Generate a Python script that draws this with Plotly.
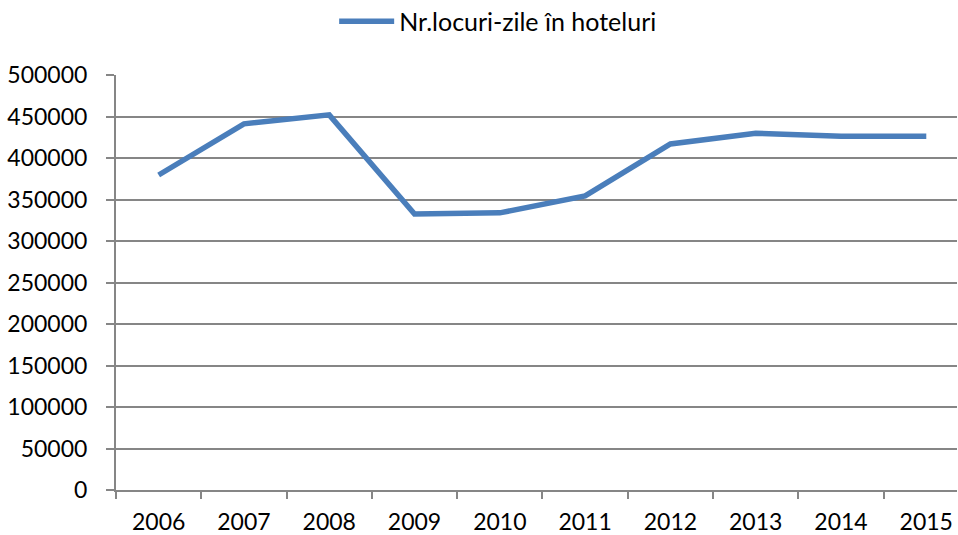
import plotly.graph_objects as go

years = ['2006', '2007', '2008', '2009', '2010', '2011', '2012', '2013', '2014', '2015']
locuri_zile = [379500, 441200, 452000, 332600, 333900, 354300, 416900, 429800, 426100, 426100]
y_ticks = [0, 50000, 100000, 150000, 200000, 250000, 300000, 350000, 400000, 450000, 500000]

GRID = '#868686'
FONT = 'Lato, Open Sans, sans-serif'

fig = go.Figure()

fig.add_trace(go.Scatter(
    x=years, y=locuri_zile,
    name='Nr.locuri-zile în hoteluri',
    mode='lines',
    line=dict(color='#4A7EBB', width=5.5),
))

fig.update_layout(
    width=958, height=535,
    plot_bgcolor='white', paper_bgcolor='white',
    margin=dict(l=116, r=1, t=75, b=45, autoexpand=False),
    font=dict(family=FONT, size=23, color='black'),
    showlegend=True,
    legend=dict(orientation='h', x=0.52, xref='container', xanchor='center',
                y=0.96, yref='container', yanchor='middle',
                font=dict(size=25), itemwidth=55),
)

# the original chart is cropped on the right, so the last category is cut short
fig.update_xaxes(
    type='category', tickson='boundaries', range=[-0.5, 9.36],
    showline=True, linecolor=GRID, linewidth=2,
    ticks='outside', ticklen=7, tickcolor=GRID, tickwidth=2,
    showgrid=False, tickfont=dict(size=23), automargin=False,
    ticklabelstandoff=10,
)
fig.update_yaxes(
    range=[0, 500000], tickvals=y_ticks, ticktext=[str(v) for v in y_ticks],
    showline=True, linecolor=GRID, linewidth=2,
    ticks='outside', ticklen=8, tickcolor=GRID, tickwidth=2,
    showgrid=True, gridcolor=GRID, gridwidth=2, zeroline=False,
    tickfont=dict(size=23), automargin=False, ticklabelstandoff=14,
)

# no default body margin or scrollbars, so the figure fills the window exactly
fig.write_html(
    "out.html",
    config={'displayModeBar': False},
    post_script="document.body.style.margin='0'; document.body.style.overflow='hidden';",
)
